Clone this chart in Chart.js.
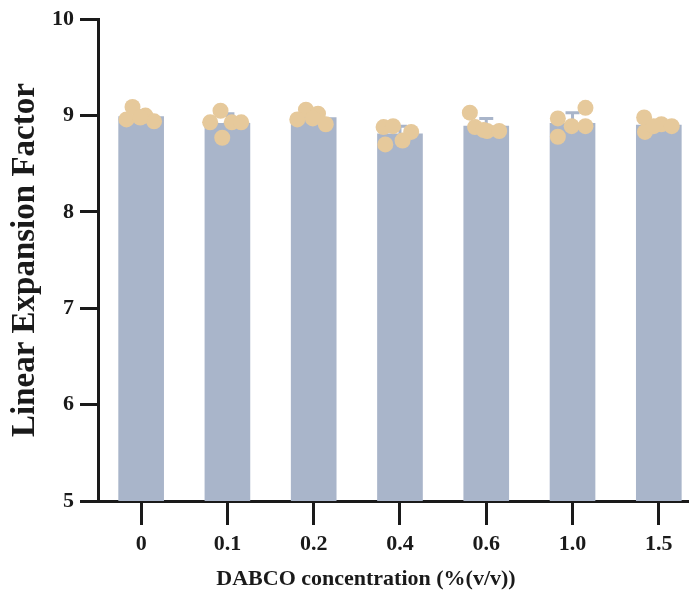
<!doctype html>
<html>
<head>
	<meta charset="utf-8">
	<title>Linear Expansion Factor</title>
	<style>
		html, body { margin: 0; padding: 0; background: #fff; overflow: hidden; }
		#holder { width: 689px; height: 593px; }
	</style>
</head>
<body>
	<div id="holder">
		<canvas id="chart-area" width="689" height="593"></canvas>
	</div>
	<script src="https://cdn.jsdelivr.net/npm/chart.js@4/dist/chart.umd.min.js"></script>
	<script>
	// concentrations (% v/v)
	var categories = ['0', '0.1', '0.2', '0.4', '0.6', '1.0', '1.5'];
	// bar heights (mean) and SD
	var means = [8.99, 8.92, 8.98, 8.81, 8.89, 8.92, 8.90];
	var sds = [0.06, 0.10, 0.05, 0.08, 0.08, 0.11, 0.05];
	// individual replicates, per group
	var points = [
		[9.09, 8.96, 9.00, 8.94, 8.98],
		[9.05, 8.93, 8.93, 8.93, 8.77],
		[9.06, 8.96, 9.02, 8.91, 8.97],
		[8.88, 8.89, 8.83, 8.74, 8.70],
		[9.03, 8.88, 8.84, 8.84, 8.85],
		[8.97, 9.08, 8.89, 8.89, 8.78],
		[8.98, 8.83, 8.91, 8.89, 8.89]
	];
	// horizontal scatter of the replicates inside each bar
	var jitter = [
		[-0.10, -0.17, 0.05, 0.15, -0.01],
		[-0.08, -0.20, 0.05, 0.16, -0.06],
		[-0.09, -0.19, 0.05, 0.14, -0.01],
		[-0.19, -0.08, 0.13, 0.03, -0.17],
		[-0.19, -0.13, 0.01, 0.15, -0.03],
		[-0.17, 0.15, -0.01, 0.15, -0.17],
		[-0.17, -0.16, 0.03, 0.15, -0.06]
	];

	var barColor = '#a9b5ca';
	var dotColor = '#e6c99b';
	var ink = '#1a1a1a';
	var serif = "'Liberation Serif', 'Times New Roman', serif";

	var barData = means.map(function(m, i) { return { x: i, y: m }; });
	var dotData = [];
	points.forEach(function(group, i) {
		group.forEach(function(v, j) {
			dotData.push({ x: i + jitter[i][j], y: v });
		});
	});

	var errorBars = {
		id: 'errorBars',
		afterDatasetDraw: function(chart, args) {
			if (args.index !== 0) return;
			var ctx = chart.ctx;
			var xs = chart.scales.x, ys = chart.scales.y;
			ctx.save();
			ctx.strokeStyle = barColor;
			ctx.lineWidth = 3;
			means.forEach(function(m, i) {
				var x = xs.getPixelForValue(i);
				var y0 = ys.getPixelForValue(m);
				var y1 = ys.getPixelForValue(m + sds[i]);
				ctx.beginPath();
				ctx.moveTo(x, y0);
				ctx.lineTo(x, y1);
				ctx.moveTo(x - 7, y1);
				ctx.lineTo(x + 7, y1);
				ctx.stroke();
			});
			ctx.restore();
		}
	};

	var config = {
		type: 'bar',
		data: {
			datasets: [{
				label: 'mean',
				data: barData,
				backgroundColor: barColor,
				barThickness: 45,
				order: 2
			}, {
				type: 'scatter',
				label: 'replicates',
				data: dotData,
				backgroundColor: dotColor,
				borderColor: dotColor,
				borderWidth: 0,
				pointRadius: 8,
				pointHoverRadius: 8,
				order: 1
			}]
		},
		options: {
			responsive: false,
			animation: false,
			layout: { autoPadding: false, padding: { top: 18, right: 0, left: 0, bottom: 0 } },
			plugins: {
				legend: { display: false },
				tooltip: { enabled: false }
			},
			scales: {
				x: {
					type: 'linear',
					min: -0.5,
					max: 6.35,
					offset: false,
					afterBuildTicks: function(scale) {
						scale.ticks = categories.map(function(c, i) { return { value: i }; });
					},
					afterFit: function(scale) {
						scale.height = 92;
						scale.paddingLeft = 0;
						scale.paddingRight = 0;
					},
					ticks: {
						callback: function(value) { return categories[value]; },
						color: ink,
						font: { family: serif, size: 22, weight: 'bold' },
						padding: 6,
						maxRotation: 0,
						autoSkip: false
					},
					grid: {
						offset: false,
						drawOnChartArea: false,
						drawTicks: true,
						tickLength: 24,
						tickWidth: 3,
						tickColor: ink
					},
					border: { display: true, color: ink, width: 3 },
					title: {
						display: true,
						// trailing spaces nudge the centred title left, as in the original
						text: 'DABCO concentration (%(v/v))\u00a0\u00a0\u00a0\u00a0\u00a0\u00a0\u00a0\u00a0\u00a0\u00a0',
						color: ink,
						font: { family: serif, size: 22, weight: 'bold' },
						padding: { top: 0, bottom: 0 }
					}
				},
				y: {
					min: 5,
					max: 10,
					afterFit: function(scale) { scale.width = 98; },
					ticks: {
						stepSize: 1,
						color: ink,
						font: { family: serif, size: 22, weight: 'bold' },
						padding: 6
					},
					grid: {
						drawOnChartArea: false,
						drawTicks: true,
						tickLength: 18,
						tickWidth: 3,
						tickColor: ink
					},
					border: { display: true, color: ink, width: 3 },
					title: {
						display: true,
						text: 'Linear Expansion Factor',
						color: ink,
						font: { family: serif, size: 33, weight: 'bold' },
						padding: { top: 6, bottom: 0 }
					}
				}
			}
		},
		plugins: [errorBars]
	};

	window.onload = function() {
		var ctx = document.getElementById('chart-area').getContext('2d');
		window.myBar = new Chart(ctx, config);
	};
	</script>
</body>
</html>
